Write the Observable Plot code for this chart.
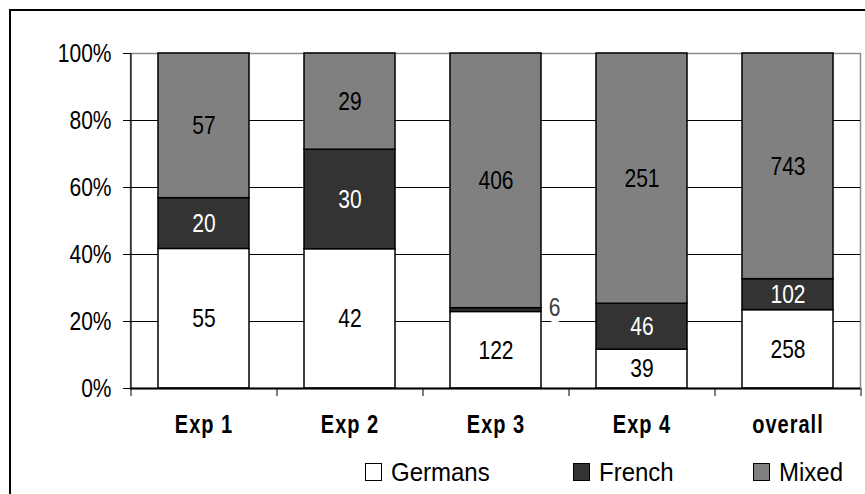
<!DOCTYPE html>
<html><head><meta charset="utf-8">
<script src="https://cdn.jsdelivr.net/npm/d3@7"></script>
<script src="https://cdn.jsdelivr.net/npm/@observablehq/plot@0.6"></script>
<style>
body{margin:0;background:#fff;}
#wrap{position:relative;width:865px;height:494px;overflow:hidden;font-family:"Liberation Sans",Arial,sans-serif;background:#fff;}
#border{position:absolute;left:9px;top:9px;width:900px;height:600px;border:2px solid #000;box-sizing:border-box;}
#chart{position:absolute;left:0;top:0;}
#legend{position:absolute;top:458px;left:0;width:865px;height:28px;font-size:24px;}
.item{position:absolute;top:0;height:28px;display:flex;align-items:center;}
.sw{width:17px;height:18px;border:1.5px solid #000;box-sizing:border-box;margin-right:9px;}
.lab{display:inline-block;transform:scaleY(1.1);}
</style></head>
<body>
<div id="wrap"><div id="border"></div><div id="chart"></div><div id="legend"></div></div>
<script>
const categories = ["Exp 1", "Exp 2", "Exp 3", "Exp 4", "overall"];
const groups = ["Germans", "French", "Mixed"];
const germans = [55, 42, 122, 39, 258];
const french = [20, 30, 6, 46, 102];
const mixed = [57, 29, 406, 251, 743];
const colors = ["#ffffff", "#333333", "#808080"];
const labelColors = ["#000000", "#ffffff", "#000000"];
const yTicks = [0, 0.2, 0.4, 0.6, 0.8, 1];

const series = [germans, french, mixed];
const W = 865, H = 448, mL = 130, mR = 5, mT = 53, mB = 60;
const padIn = 0.377;
const step = (W - mL - mR) / categories.length;
const bw = step * (1 - padIn);

const totals = categories.map((c, i) => series.reduce((s, a) => s + a[i], 0));
const rows = [];
categories.forEach((c, i) => groups.forEach((g, j) => rows.push({
  category: c, group: g, value: series[j][i], share: series[j][i] / totals[i],
  fill: colors[j], lc: labelColors[j]
})));
const small = d => d.share < 0.03;

const stk = extra => Plot.stackY({offset: "normalize", x: "category", y: "value", z: "group", ...extra});

const plot = Plot.plot({
  width: W, height: H, marginLeft: mL, marginRight: mR, marginTop: mT, marginBottom: mB,
  x: {domain: categories, paddingInner: padIn, paddingOuter: padIn / 2, label: null},
  y: {domain: [0, 1], label: null},
  color: {type: "identity"},
  style: {fontFamily: "'Liberation Sans', Arial, sans-serif", fontSize: "21px", color: "black", background: "transparent", overflow: "visible"},
  marks: [
    Plot.frame({stroke: "#8c8c8c", strokeWidth: 1.5}),
    Plot.ruleY(yTicks.filter(t => t > 0 && t < 1), {stroke: "black", strokeWidth: 1}),
    Plot.barY(rows, stk({fill: "fill", stroke: "black", strokeWidth: 1.5})),
    Plot.text(rows, stk({text: d => small(d) ? "" : String(d.value), fill: "lc", fontSize: 21})),
    Plot.text(rows, stk({text: d => small(d) ? String(d.value) : "", fill: "#404040", stroke: "white", strokeWidth: 10, paintOrder: "stroke", dx: bw / 2 + 13, dy: -2, fontSize: 21})),
    Plot.ruleY([0], {stroke: "black", strokeWidth: 2}),
    Plot.ruleX([categories[0]], {dx: -step / 2, stroke: "black", strokeWidth: 1.2}),
    Plot.axisY({ticks: yTicks, tickFormat: d3.format(".0%"), tickSize: 7, tickPadding: 12, fontSize: 21, label: null}),
    Plot.axisX({tickSize: 8, dx: -step / 2, tickFormat: () => "", label: null}),
    Plot.axisX([categories[categories.length - 1]], {tickSize: 8, dx: step / 2, tickFormat: () => "", label: null}),
    Plot.axisX({tickSize: 0, tickPadding: 27, fontSize: 20, fontWeight: "bold", label: null})
  ]
});

plot.querySelectorAll("text").forEach(t => {
  const tr = t.getAttribute("transform");
  if (tr && tr.includes("translate")) t.setAttribute("transform", tr + " scale(1,1.25)");
  if (categories.includes(t.textContent) && t.closest("g") && t.closest("g").getAttribute("font-weight") === "bold") {
    t.setAttribute("letter-spacing", "1");
  }
});
document.getElementById("chart").appendChild(plot);

const legendX = [365, 573, 753];
const leg = document.getElementById("legend");
groups.forEach((g, j) => {
  const it = document.createElement("div");
  it.className = "item";
  it.style.left = legendX[j] + "px";
  const sw = document.createElement("div");
  sw.className = "sw";
  sw.style.background = colors[j];
  const lab = document.createElement("span");
  lab.className = "lab";
  lab.textContent = g;
  it.appendChild(sw); it.appendChild(lab);
  leg.appendChild(it);
});
</script>
</body></html>
